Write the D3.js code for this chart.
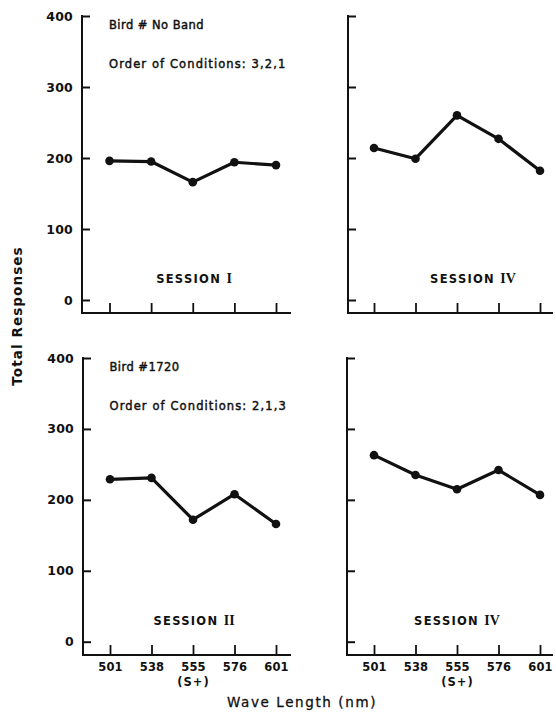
<!DOCTYPE html>
<html>
<head>
<meta charset="utf-8">
<script src="https://cdn.jsdelivr.net/npm/d3@7"></script>
<style>
  html, body { margin: 0; padding: 0; background: #fff; }
  svg { display: block; }
  text { fill: #111; }
</style>
</head>
<body>
<svg id="chart" width="556" height="713"></svg>
<script>
// ---- data ----
const wavelengths = ["501", "538", "555", "576", "601"];
const yTicks = [0, 100, 200, 300, 400];
const sessionI   = [196, 195, 166, 194, 190];   // Bird # No Band, Session I
const sessionIVa = [214, 199, 260, 227, 182];   // Bird # No Band, Session IV
const sessionII  = [229, 231, 172, 208, 166];   // Bird #1720, Session II
const sessionIVb = [263, 235, 215, 242, 207];   // Bird #1720, Session IV
const birdLabels = ["Bird # No Band", "Bird #1720"];
const orderLabels = ["Order of Conditions: 3,2,1", "Order of Conditions: 2,1,3"];
const sessionNames = ["I", "IV", "II", "IV"];

// ---- layout ----
const panels = [
  {vals: sessionI,   x0: 82,  x1: 291, xa: 109.5, xb: 276, yTop: 16,  y0: 300,   yAxis: 313, left: true,  bottom: false, sx: 194, sy: 283, bird: 0},
  {vals: sessionIVa, x0: 348, x1: 553, xa: 374,   xb: 540, yTop: 16,  y0: 300,   yAxis: 313, left: false, bottom: false, sx: 473, sy: 283},
  {vals: sessionII,  x0: 83,  x1: 291, xa: 110,   xb: 276, yTop: 358, y0: 641.7, yAxis: 655, left: true,  bottom: true,  sx: 194, sy: 625, bird: 1},
  {vals: sessionIVb, x0: 347, x1: 553, xa: 374,   xb: 540, yTop: 358, y0: 641.7, yAxis: 655, left: false, bottom: true,  sx: 457, sy: 625}
];

const svg = d3.select("#chart");
const sans = "'DejaVu Sans', sans-serif";

panels.forEach((p, i) => {
  const g = svg.append("g");
  const y = d3.scaleLinear().domain([0, 400]).range([p.y0, p.yTop]);
  const x = d3.scalePoint().domain(wavelengths).range([p.xa, p.xb]);

  // y axis
  const ya = g.append("g").attr("transform", `translate(${p.x0},0)`)
    .call(d3.axisLeft(y).tickValues(yTicks).tickSizeInner(-8).tickSizeOuter(0).tickPadding(9)
      .tickFormat(p.left ? d3.format("d") : () => ""));
  ya.select(".domain").remove();
  ya.selectAll(".tick line").attr("stroke", "#111").attr("stroke-width", 2);
  ya.selectAll(".tick text").attr("font-family", sans).attr("font-weight", "bold")
    .attr("font-size", 12.5).attr("fill", "#111").attr("letter-spacing", 0.2);
  g.append("line").attr("x1", p.x0).attr("x2", p.x0).attr("y1", p.yTop - 1).attr("y2", p.yAxis + 1)
    .attr("stroke", "#111").attr("stroke-width", 2);

  // x axis
  const xa = g.append("g").attr("transform", `translate(0,${p.yAxis})`)
    .call(d3.axisBottom(x).tickSizeInner(-10).tickSizeOuter(0).tickPadding(8)
      .tickFormat(p.bottom ? (d => d) : () => ""));
  xa.select(".domain").remove();
  xa.selectAll(".tick line").attr("stroke", "#111").attr("stroke-width", 1.8);
  xa.selectAll(".tick text").attr("font-family", sans).attr("font-weight", "bold")
    .attr("font-size", 11.5).attr("fill", "#111").attr("letter-spacing", 0.2);
  if (p.bottom) {
    xa.selectAll(".tick").filter(d => d === "555").append("text")
      .attr("y", 30.5).attr("text-anchor", "middle")
      .attr("font-family", sans).attr("font-weight", "bold").attr("font-size", 11.5)
      .attr("letter-spacing", 1).attr("fill", "#111").text("(S+)");
  }
  g.append("line").attr("x1", p.x0 - 1).attr("x2", p.x1).attr("y1", p.yAxis).attr("y2", p.yAxis)
    .attr("stroke", "#111").attr("stroke-width", 2);

  // data line
  const line = d3.line().x((d, j) => x(wavelengths[j])).y(d => y(d));
  g.append("path").datum(p.vals).attr("d", line).attr("fill", "none")
    .attr("stroke", "#111").attr("stroke-width", 3.2).attr("stroke-linejoin", "round");
  g.selectAll("circle").data(p.vals).join("circle")
    .attr("cx", (d, j) => x(wavelengths[j])).attr("cy", d => y(d)).attr("r", 4.3).attr("fill", "#111");

  // session label
  const st = g.append("text").attr("x", p.sx).attr("y", p.sy).attr("text-anchor", "middle")
    .attr("font-family", sans).attr("font-weight", "bold").attr("font-size", 11.5).attr("letter-spacing", 1.3);
  st.append("tspan").text("SESSION ");
  st.append("tspan").attr("font-family", "'Liberation Serif', serif").attr("font-size", 14)
    .attr("letter-spacing", 0).text(sessionNames[i]);

  // bird / order labels
  if (p.left) {
    g.append("text").attr("x", p.xa - 0.5).attr("y", p.yTop + 13)
      .attr("font-family", sans).attr("font-size", 11.5)
      .attr("stroke", "#111").attr("stroke-width", 0.45)
      .attr("letter-spacing", 0.45).text(birdLabels[p.bird]);
    g.append("text").attr("x", p.xa - 0.5).attr("y", p.yTop + 51.5)
      .attr("font-family", sans).attr("font-size", 11.5)
      .attr("stroke", "#111").attr("stroke-width", 0.45)
      .attr("letter-spacing", 1.1).text(orderLabels[p.bird]);
  }
});

// axis titles
svg.append("text").attr("transform", "translate(22,316) rotate(-90)").attr("text-anchor", "middle")
  .attr("font-family", sans).attr("font-weight", "bold").attr("font-size", 13.5)
  .attr("letter-spacing", 1.1).text("Total Responses");
svg.append("text").attr("x", 302).attr("y", 707).attr("text-anchor", "middle")
  .attr("font-family", sans).attr("font-size", 13.5).attr("letter-spacing", 1.6)
  .attr("stroke", "#111").attr("stroke-width", 0.3)
  .text("Wave Length (nm)");
</script>
</body>
</html>
